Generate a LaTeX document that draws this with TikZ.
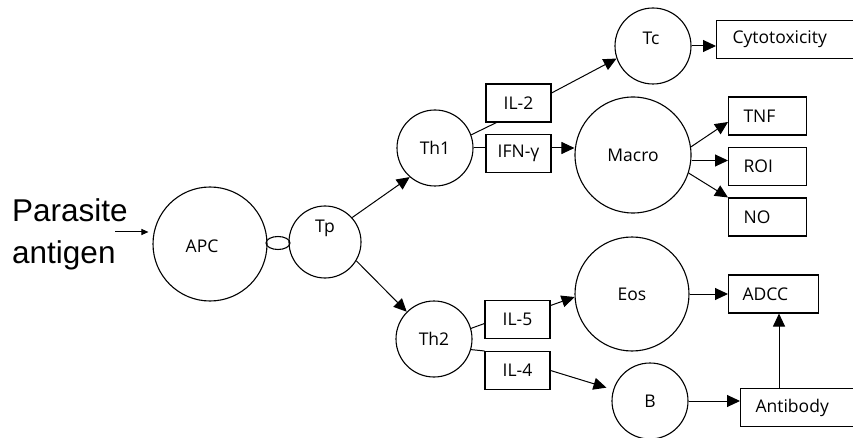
\documentclass[tikz,border=0pt]{standalone}
\usepackage{fontspec}
\setmainfont{Open Sans}
\newfontfamily\arialfont{Liberation Sans}
\usetikzlibrary{arrows.meta,shapes.geometric,calc}
\tikzset{
  cell/.style={draw, circle, line width=1.1pt, inner sep=0pt, font=\fontsize{17.5}{20}\selectfont},
  cbox/.style={draw, rectangle, line width=1.1pt, inner ysep=0pt, inner xsep=0pt, minimum height=38pt, font=\fontsize{17.5}{20}\selectfont},
  lbox/.style={draw, rectangle, line width=1.1pt, inner ysep=0pt, inner xsep=15pt, minimum height=38pt, align=left, font=\fontsize{17.5}{20}\selectfont},
  link/.style={line width=1pt},
  arr/.style={line width=1pt, -{Triangle[length=13pt,width=12pt]}},
  bigtext/.style={inner sep=0pt, font=\arialfont\fontsize{31.5}{34}\selectfont},
  every label/.append style={font=\fontsize{17.5}{20}\selectfont, inner sep=0pt},
}
\begin{document}
\begin{tikzpicture}[x=1pt,y=-1pt]
\clip (0,0) rectangle (853,438);
% circles
\node[cell, minimum size=114pt, label={[xshift=-8pt,yshift=-2pt]center:APC}] (APC) at (210,244) {};
\node[draw, ellipse, line width=1.1pt, minimum width=24pt, minimum height=13pt, inner sep=0pt] (link) at (278,243) {};
\node[cell, minimum size=72pt, label={[yshift=14pt]center:Tp}] (Tp) at (325,242) {};
\node[cell, minimum size=76pt] (Th1) at (435,148) {Th1};
\node[cell, minimum size=76pt] (Th2) at (434,339) {Th2};
\node[cell, minimum size=76pt, label={[xshift=-2pt,yshift=8pt]center:Tc}] (Tc) at (653,46) {};
\node[cell, minimum size=116pt] (Macro) at (633,155) {Macro};
\node[cell, minimum size=114pt] (Eos) at (632,294) {Eos};
\node[cell, minimum size=76pt] (B) at (650,401) {B};
% boxes
\node[cbox, minimum width=65pt] (IL2) at (518.5,103) {IL-2};
\node[cbox, minimum width=65pt] (IFN) at (518.5,153.5) {IFN-γ};
\node[cbox, minimum width=65pt] (IL5) at (517.5,319.5) {IL-5};
\node[cbox, minimum width=65pt] (IL4) at (517.5,370.5) {IL-4};
\node[lbox, inner xsep=16pt, text width=130pt, anchor=west] (Cyto) at (716,39.5) {Cytotoxicity};
\node[lbox, text width=48pt, anchor=west] (TNF) at (728,116) {TNF};
\node[lbox, text width=48pt, anchor=west] (ROI) at (728,166.5) {ROI};
\node[lbox, text width=48pt, anchor=west] (NO) at (728,217) {NO};
\node[lbox, inner xsep=14pt, text width=62pt, anchor=west] (ADCC) at (728,294) {ADCC};
\node[lbox, text width=100pt, anchor=west] (Ab) at (740,407.5) {Antibody};
% parasite antigen
\node[bigtext, anchor=base west] (par) at (12,222) {Parasite};
\node[bigtext, anchor=base west] (ant) at (12,263) {antigen};
\coordinate (pstart) at (115,232);
\draw[line width=1pt, -{Triangle[length=7pt,width=6pt]}, shorten >=4pt] (pstart) -- (pstart -| APC.west);
% connectors
\draw[arr] (Tp.42) -- (Th1.229);
\draw[arr] (Tp.-31) -- (Th2.135);
\draw[link] (Th1.20) -- ([xshift=11pt]IL2.south west);
\draw[arr] ([yshift=10pt]IL2.east) -- (Tc.199);
\draw[link] (Th1.east) -- (Th1.east -| IFN.west);
\draw[arr] (Th1.east -| IFN.east) -- (Th1.east -| Macro.west);
\draw[arr] (Tc.east) -- (Tc.east -| Cyto.west);
\draw[arr] (Macro.8) -- ([yshift=-6pt]TNF.west);
\draw[arr] ([yshift=6pt]ROI.west -| Macro.east) -- ([yshift=6pt]ROI.west);
\draw[arr] (Macro.-18) -- (NO.north west);
\draw[link] (Th2.16) -- ([yshift=-4pt]IL5.west);
\draw[link] (Th2.-16) -- (IL4.north west);
\draw[arr] ([yshift=14pt]IL5.east) -- (Eos.183);
\draw[arr] (Eos.east) -- (ADCC.west);
\draw[arr, shorten >=7pt] (IL4.east) -- (B);
\draw[arr] (B.east) -- (B.east -| Ab.west);
\draw[arr] ([xshift=39pt]Ab.north west) -- ([xshift=39pt]Ab.north west |- ADCC.south);
\end{tikzpicture}
\end{document}
